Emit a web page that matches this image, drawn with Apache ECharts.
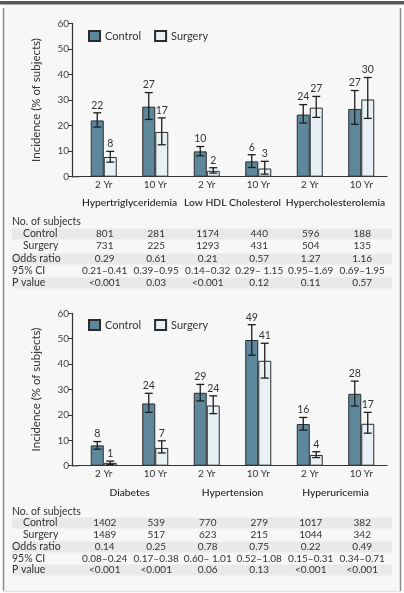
<!DOCTYPE html>
<html><head><meta charset="utf-8">
<script src="https://cdn.jsdelivr.net/npm/echarts@6/dist/echarts.min.js"></script>
<style>html,body{margin:0;padding:0;background:#fff}#c{width:404px;height:593px}</style>
</head><body><div id="c"></div>
<script>
// ---------- data ----------
const periods = ['2 Yr','10 Yr','2 Yr','10 Yr','2 Yr','10 Yr'];
const yTicks = [0,10,20,30,40,50,60];
const seriesNames = ['Control','Surgery'];

const groups1 = ['Hypertriglyceridemia','Low HDL Cholesterol','Hypercholesterolemia'];
const control1 = [22.0, 27.4, 9.9, 6.0, 24.3, 26.5];
const control1Lo = [19.4, 22.4, 8.2, 3.6, 21.0, 20.5];
const control1Hi = [25.0, 32.9, 11.8, 8.6, 28.2, 33.7];
const control1Lbl = ['22','27','10','6','24','27'];
const surgery1 = [7.7, 17.5, 2.3, 3.2, 27.0, 30.2];
const surgery1Lo = [5.7, 12.5, 1.4, 1.0, 23.2, 22.8];
const surgery1Hi = [9.9, 23.0, 3.5, 6.0, 31.4, 38.8];
const surgery1Lbl = ['8','17','2','3','27','30'];
const nCtrl1 = ['801','281','1174','440','596','188'];
const nSurg1 = ['731','225','1293','431','504','135'];
const or1 = ['0.29','0.61','0.21','0.57','1.27','1.16'];
const ci1 = ['0.21\u20130.41','0.39\u20130.95','0.14\u20130.32','0.29\u2013 1.15','0.95\u20131.69','0.69\u20131.95'];
const p1 = ['<0.001','0.03','<0.001','0.12','0.11','0.57'];

const groups2 = ['Diabetes','Hypertension','Hyperuricemia'];
const control2 = [8.0, 24.5, 28.7, 49.5, 16.4, 28.3];
const control2Lo = [6.5, 21.0, 25.5, 43.5, 14.0, 23.5];
const control2Hi = [9.5, 28.5, 32.0, 55.5, 19.0, 33.3];
const control2Lbl = ['8','24','29','49','16','28'];
const surgery2 = [1.1, 7.0, 23.7, 41.3, 4.2, 16.5];
const surgery2Lo = [0.5, 5.0, 20.5, 34.5, 3.2, 12.8];
const surgery2Hi = [1.8, 9.8, 27.5, 48.2, 5.5, 21.0];
const surgery2Lbl = ['1','7','24','41','4','17'];
const nCtrl2 = ['1402','539','770','279','1017','382'];
const nSurg2 = ['1489','517','623','215','1044','342'];
const or2 = ['0.14','0.25','0.78','0.75','0.22','0.49'];
const ci2 = ['0.08\u20130.24','0.17\u20130.38','0.60\u2013 1.01','0.52\u20131.08','0.15\u20130.31','0.34\u20130.71'];
const p2 = ['<0.001','<0.001','0.06','0.13','<0.001','<0.001'];

const rowLabels = ['Control','Surgery','Odds ratio','95% CI','P value'];
const headLabel = 'No. of subjects';
const yName = 'Incidence (% of subjects)';

// ---------- style ----------
const FONT = 'Lato';
const CTRL = '#5d889c';
const SURG = '#e6f0f5';
const EDGE = '#2b2b2b';
const BAR_W = 13;
const TXT = '#333';

const chart = echarts.init(document.getElementById('c'), null, {renderer:'canvas'});

function errRender(sign, labels){
  return function(params, api){
    const i = api.value(0), lo = api.value(1), hi = api.value(2);
    const pLo = api.coord([i, lo]), pHi = api.coord([i, hi]);
    const x = pLo[0] + sign*BAR_W/2;
    const cap = 4;
    const st = {stroke:'#1e1e1e', lineWidth:1.3};
    return {type:'group', children:[
      {type:'line', shape:{x1:x,y1:pLo[1],x2:x,y2:pHi[1]}, style:st},
      {type:'line', shape:{x1:x-cap,y1:pHi[1],x2:x+cap,y2:pHi[1]}, style:st},
      {type:'line', shape:{x1:x-cap,y1:pLo[1],x2:x+cap,y2:pLo[1]}, style:st},
      {type:'text', x:x, y:pHi[1]-2, style:{text:labels[params.dataIndex], textAlign:'center', textVerticalAlign:'bottom', fontSize:10.5, fontFamily:FONT, fill:TXT}}
    ]};
  };
}
function tri(lo, hi){ return lo.map((v,i)=>[i, v, hi[i]]); }

const grids = [
  {left:78, right:17, top:23.3, height:153.4},
  {left:78, right:17, top:313.3, height:152.4}
];
function xAx(gi){ return {type:'category', gridIndex:gi, data:periods,
  axisLine:{lineStyle:{color:'#333', width:1.2}}, axisTick:{show:false},
  axisLabel:{color:'#333', fontSize:10, fontFamily:FONT, margin:3}}; }
function yAx(gi){ return {type:'value', gridIndex:gi, min:yTicks[0], max:yTicks[yTicks.length-1], interval:yTicks[1]-yTicks[0], offset:6,
  name:yName, nameLocation:'middle', nameGap:30, nameTextStyle:{color:'#333', fontSize:11.5, fontFamily:FONT},
  axisLine:{show:true, lineStyle:{color:'#333', width:1.2}}, axisTick:{show:true, length:4, lineStyle:{color:'#333'}},
  splitLine:{show:false}, axisLabel:{color:'#444', fontSize:10, fontFamily:FONT, margin:3}}; }

function barS(name, data, gi, color){
  return {type:'bar', name:name, xAxisIndex:gi, yAxisIndex:gi, data:data, barWidth:BAR_W, barGap:'0%',
    itemStyle:{color:color, borderColor:EDGE, borderWidth:1}, z:2, silent:true};
}
function errS(name, lo, hi, gi, sign, lbl){
  return {type:'custom', name:name, xAxisIndex:gi, yAxisIndex:gi, data:tri(lo,hi), encode:{x:0, y:[1,2]},
    renderItem:errRender(sign, lbl), z:5, silent:true};
}

const legendBase = {data:seriesNames, left:83, icon:'rect', itemWidth:11, itemHeight:10, itemGap:13,
  textStyle:{color:'#333', fontSize:11, fontFamily:FONT}, selectedMode:false};

chart.setOption({
  animation:false,
  backgroundColor:'#ffffff',
  textStyle:{fontFamily:FONT},
  grid:grids,
  xAxis:[xAx(0), xAx(1)],
  yAxis:[yAx(0), yAx(1)],
  legend:[Object.assign({top:25}, legendBase), Object.assign({top:314}, legendBase)],
  series:[
    barS('Control', control1, 0, CTRL), barS('Surgery', surgery1, 0, SURG),
    errS('Control', control1Lo, control1Hi, 0, -1, control1Lbl),
    errS('Surgery', surgery1Lo, surgery1Hi, 0, 1, surgery1Lbl),
    barS('Control', control2, 1, CTRL), barS('Surgery', surgery2, 1, SURG),
    errS('Control', control2Lo, control2Hi, 1, -1, control2Lbl),
    errS('Surgery', surgery2Lo, surgery2Hi, 1, 1, surgery2Lbl)
  ]
});

// ---------- frame, tables, group labels ----------
const g = [];
g.push({type:'rect', shape:{x:3, y:4, width:397, height:587}, style:{fill:'#f7f7f7'}, z:-10, silent:true});
g.push({type:'rect', shape:{x:0, y:1, width:404, height:3.5}, style:{fill:'#585858'}, z:-9, silent:true});
g.push({type:'line', shape:{x1:3.5, y1:8, x2:3.5, y2:591}, style:{stroke:'#8c8c8c', lineWidth:1.5}, z:-9, silent:true});
g.push({type:'line', shape:{x1:400.5, y1:8, x2:400.5, y2:591}, style:{stroke:'#8c8c8c', lineWidth:1.5}, z:-9, silent:true});
g.push({type:'line', shape:{x1:3, y1:591.5, x2:401, y2:591.5}, style:{stroke:'#f1dcd4', lineWidth:1.5}, z:-9, silent:true});

function addPanel(gi, groups, cols, groupY, headY, rowYs){
  const cx = periods.map((_,i)=>chart.convertToPixel({xAxisIndex:gi}, i));
  const y0 = chart.convertToPixel({yAxisIndex:gi}, 0);
  g.push({type:'line', shape:{x1:72, y1:y0, x2:cx[0]-25, y2:y0}, style:{stroke:'#333', lineWidth:1.2}, z:3, silent:true});
  groups.forEach((name, k)=>{
    const x = (cx[2*k] + cx[2*k+1])/2;
    g.push({type:'text', x:x, y:groupY, style:{text:name, textAlign:'center', textVerticalAlign:'middle', fontSize:10.3, fontWeight:500, fontFamily:FONT, fill:'#1e1e1e'}, silent:true});
  });
  g.push({type:'text', x:12, y:headY, style:{text:headLabel, textAlign:'left', textVerticalAlign:'middle', fontSize:10.5, fontFamily:FONT, fill:TXT}, silent:true});
  rowYs.forEach((ry, r)=>{
    if (r===0 || r===2 || r===4) {
      g.push({type:'rect', shape:{x:12, y:ry-5.5, width:380, height:11}, style:{fill:'#e9e9e9'}, z:-5, silent:true});
    }
    const indent = (r<2) ? 23 : 12;
    g.push({type:'text', x:indent, y:ry, style:{text:rowLabels[r], textAlign:'left', textVerticalAlign:'middle', fontSize:10.5, fontFamily:FONT, fill:TXT}, silent:true});
    cols[r].forEach((v, i)=>{
      g.push({type:'text', x:cx[i]+1, y:ry, style:{text:v, textAlign:'center', textVerticalAlign:'middle', fontSize:10, fontFamily:FONT, fill:TXT}, silent:true});
    });
  });
}
addPanel(0, groups1, [nCtrl1, nSurg1, or1, ci1, p1], 203, 222, [234, 246, 259, 271, 283]);
addPanel(1, groups2, [nCtrl2, nSurg2, or2, ci2, p2], 493, 512, [523, 535, 547, 559, 570]);

chart.setOption({graphic:{elements:g}});
</script>
</body></html>
